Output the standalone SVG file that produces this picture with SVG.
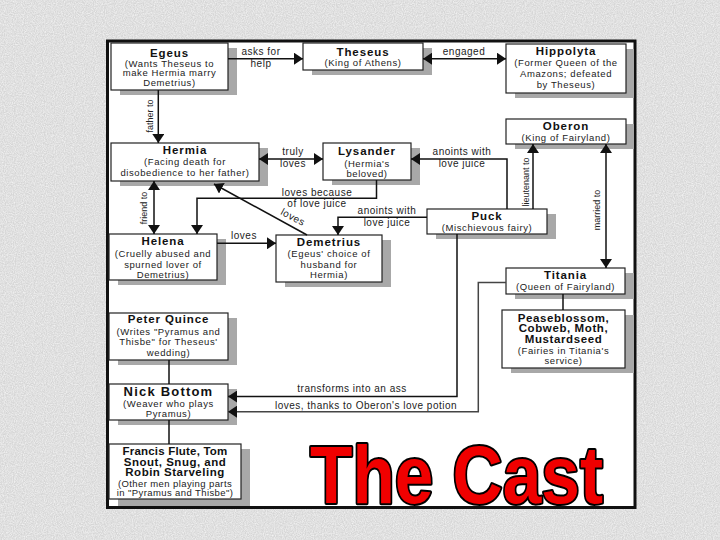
<svg xmlns="http://www.w3.org/2000/svg" width="720" height="540" viewBox="0 0 720 540">
<defs>
<style>
.box{fill:#fff;stroke:#222;stroke-width:1.2}
.sh{fill:#a8a8a8}
.t{font-family:"Liberation Sans",Arial,sans-serif;font-weight:bold;font-size:11.5px;fill:#111;text-anchor:middle;letter-spacing:.9px}
.s{font-family:"Liberation Sans",Arial,sans-serif;font-size:9.5px;fill:#222;text-anchor:middle;letter-spacing:.6px}
.l{font-family:"Liberation Sans",Arial,sans-serif;font-size:10px;fill:#222;text-anchor:middle;letter-spacing:.5px}
.r{font-family:"Liberation Sans",Arial,sans-serif;font-size:9px;fill:#222;text-anchor:middle}
.c{fill:none;stroke:#111;stroke-width:1.5}
.a{marker-end:url(#ah)}
.b{marker-start:url(#ah);marker-end:url(#ah)}
</style>
<marker id="ah" viewBox="0 0 9 12" refX="9" refY="6" markerWidth="9" markerHeight="12" markerUnits="userSpaceOnUse" orient="auto-start-reverse">
<path d="M0,0 L9,6 L0,12 z" fill="#111"/>
</marker>
<filter id="tex" x="0" y="0" width="100%" height="100%">
<feTurbulence type="fractalNoise" baseFrequency="0.9" numOctaves="2" seed="3"/>
<feColorMatrix type="matrix" values="0 0 0 0 1  0 0 0 0 1  0 0 0 0 1  1.1 0 0 0 -0.3"/>
</filter>
</defs>
<rect x="0" y="0" width="720" height="540" fill="#d6d6d6"/>
<rect x="0" y="0" width="720" height="540" filter="url(#tex)"/>
<rect x="107.5" y="41" width="527.5" height="466.5" fill="#fff" stroke="#111" stroke-width="3"/>

<g id="egeus">
<rect class="sh" x="120" y="48" width="117" height="47"/>
<rect class="box" x="111" y="43" width="117" height="47"/>
<text class="t" x="169.5" y="56.5">Egeus</text>
<text class="s" x="169.5" y="66.5">(Wants Theseus to</text>
<text class="s" x="169.5" y="76">make Hermia marry</text>
<text class="s" x="169.5" y="85.5">Demetrius)</text>
</g>
<g id="theseus">
<rect class="sh" x="312" y="48" width="120" height="27"/>
<rect class="box" x="303" y="43" width="120" height="27"/>
<text class="t" x="363" y="56">Theseus</text>
<text class="s" x="363" y="66">(King of Athens)</text>
</g>
<g id="hippolyta">
<rect class="sh" x="515" y="49" width="119" height="49"/>
<rect class="box" x="506" y="44" width="120" height="49"/>
<text class="t" x="566" y="55">Hippolyta</text>
<text class="s" x="566" y="65.5">(Former Queen of the</text>
<text class="s" x="566" y="76.5">Amazons; defeated</text>
<text class="s" x="566" y="87.5">by Theseus)</text>
</g>
<g id="oberon">
<rect class="sh" x="515" y="124" width="119" height="25"/>
<rect class="box" x="506" y="119" width="120" height="25"/>
<text class="t" x="566" y="130">Oberon</text>
<text class="s" x="566" y="140.5">(King of Fairyland)</text>
</g>
<g id="hermia">
<rect class="sh" x="120" y="148" width="148" height="38"/>
<rect class="box" x="111" y="143" width="148" height="38"/>
<text class="t" x="185" y="153.5">Hermia</text>
<text class="s" x="185" y="165">(Facing death for</text>
<text class="s" x="185" y="175.5">disobedience to her father)</text>
</g>
<g id="lysander">
<rect class="sh" x="332" y="148" width="88" height="37"/>
<rect class="box" x="323" y="143" width="88" height="37"/>
<text class="t" x="367" y="155">Lysander</text>
<text class="s" x="367" y="166.5">(Hermia's</text>
<text class="s" x="367" y="176.5">beloved)</text>
</g>
<g id="puck">
<rect class="sh" x="436" y="214" width="120" height="25"/>
<rect class="box" x="427" y="209" width="120" height="25"/>
<text class="t" x="487" y="219.5">Puck</text>
<text class="s" x="487" y="231">(Mischievous fairy)</text>
</g>
<g id="helena">
<rect class="sh" x="118" y="239" width="108" height="46"/>
<rect class="box" x="109" y="234" width="108" height="46"/>
<text class="t" x="163" y="245">Helena</text>
<text class="s" x="163" y="257">(Cruelly abused and</text>
<text class="s" x="163" y="267.5">spurned lover of</text>
<text class="s" x="163" y="277.5">Demetrius)</text>
</g>
<g id="demetrius">
<rect class="sh" x="285" y="240" width="106" height="47"/>
<rect class="box" x="276" y="235" width="106" height="47"/>
<text class="t" x="329" y="245.5">Demetrius</text>
<text class="s" x="329" y="257">(Egeus' choice of</text>
<text class="s" x="329" y="267.5">husband for</text>
<text class="s" x="329" y="278">Hermia)</text>
</g>
<g id="titania">
<rect class="sh" x="515" y="273" width="119" height="26"/>
<rect class="box" x="506" y="268" width="119" height="26"/>
<text class="t" x="565.5" y="278.5">Titania</text>
<text class="s" x="565.5" y="289.5">(Queen of Fairyland)</text>
</g>
<g id="fairies">
<rect class="sh" x="511" y="315" width="123" height="58"/>
<rect class="box" x="502" y="310" width="123" height="58"/>
<text class="t" x="563.5" y="321.5" style="letter-spacing:.6px">Peaseblossom,</text>
<text class="t" x="563.5" y="332" style="letter-spacing:.6px">Cobweb, Moth,</text>
<text class="t" x="563.5" y="342.5" style="letter-spacing:.6px">Mustardseed</text>
<text class="s" x="563.5" y="354">(Fairies in Titania's</text>
<text class="s" x="563.5" y="364">service)</text>
</g>
<g id="quince">
<rect class="sh" x="118" y="318" width="119" height="47"/>
<rect class="box" x="109" y="313" width="119" height="47"/>
<text class="t" x="168.5" y="323">Peter Quince</text>
<text class="s" x="168.5" y="334.5">(Writes "Pyramus and</text>
<text class="s" x="168.5" y="345">Thisbe" for Theseus'</text>
<text class="s" x="168.5" y="355.5">wedding)</text>
</g>
<g id="bottom">
<rect class="sh" x="118" y="389" width="119" height="36"/>
<rect class="box" x="109" y="384" width="119" height="36"/>
<text class="t" x="168.5" y="396" style="font-size:13px;letter-spacing:1.2px">Nick Bottom</text>
<text class="s" x="168.5" y="406.5">(Weaver who plays</text>
<text class="s" x="168.5" y="416.5">Pyramus)</text>
</g>
<g id="mechanicals">
<rect class="sh" x="118" y="449" width="132" height="57"/>
<rect class="box" x="109" y="444" width="132" height="55"/>
<text class="t" x="175" y="455" style="letter-spacing:.2px">Francis Flute, Tom</text>
<text class="t" x="175" y="465.5" style="letter-spacing:.5px">Snout, Snug, and</text>
<text class="t" x="175" y="476" style="letter-spacing:.5px">Robin Starveling</text>
<text class="s" x="175" y="486.5" style="letter-spacing:.4px">(Other men playing parts</text>
<text class="s" x="175" y="496" style="letter-spacing:.4px">in "Pyramus and Thisbe")</text>
</g>

<g id="connectors">
<path class="c a" d="M228,58.7 H303"/>
<path class="c b" d="M423,58.7 H506"/>
<path class="c a" d="M158.3,90 V143"/>
<path class="c b" d="M259,159 H323"/>
<path class="c a" d="M507,209 V159 H411"/>
<path class="c a" d="M533,209 V144"/>
<path class="c b" d="M606,144 V268"/>
<path class="c b" d="M154,181 V234"/>
<path class="c a" d="M376.5,180 V198.3 H197 V234"/>
<path class="c a" d="M307,235 L214,184"/>
<path class="c a" d="M217,243.3 H276"/>
<path class="c a" d="M427,217.3 H338 V235"/>
<path class="c a" d="M457,234 V396.6 H228"/>
<path class="c a" d="M506,282.6 H478.3 V411.7 H228" style="stroke:#444"/>
<path class="c" d="M563,294 V310"/>
<path class="c" d="M169,360 V384"/>
<path class="c" d="M169,420 V444"/>
<text class="l" x="261" y="55.3">asks for</text>
<text class="l" x="261" y="67">help</text>
<text class="l" x="464" y="55.3">engaged</text>
<text class="r" transform="translate(149.5,116) rotate(-90)" dy="3">father to</text>
<text class="l" x="293" y="155.3">truly</text>
<text class="l" x="293" y="167">loves</text>
<text class="l" x="462" y="155.3">anoints with</text>
<text class="l" x="462" y="167">love juice</text>
<text class="r" transform="translate(526,182) rotate(-90)" dy="3">lieutenant to</text>
<text class="r" transform="translate(597,210) rotate(-90)" dy="3">married to</text>
<text class="r" transform="translate(144,208) rotate(-90)" dy="3">friend to</text>
<text class="l" x="317" y="196">loves because</text>
<text class="l" x="317" y="207">of love juice</text>
<text class="l" transform="translate(293,217) rotate(28)" dy="3.5">loves</text>
<text class="l" x="244" y="239">loves</text>
<text class="l" x="387" y="213.7">anoints with</text>
<text class="l" x="387" y="226">love juice</text>
<text class="l" x="352" y="392.3">transforms into an ass</text>
<text class="l" x="366" y="409">loves, thanks to Oberon's love potion</text>
</g>

<text x="310" y="503" textLength="293" lengthAdjust="spacingAndGlyphs" font-family="Liberation Sans, Arial, sans-serif" font-weight="bold" font-size="82" fill="#f00000" stroke="#000" stroke-width="4" paint-order="stroke" stroke-linejoin="round">The Cast</text>
</svg>
